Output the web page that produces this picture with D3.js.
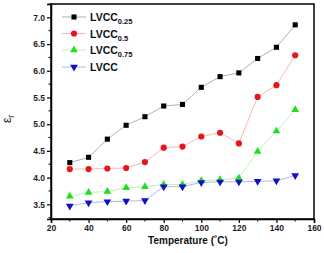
<!DOCTYPE html>
<html><head><meta charset="utf-8">
<script src="https://cdn.jsdelivr.net/npm/d3@7"></script>
<style>body{margin:0;background:#fff}svg{display:block;font-family:"Liberation Sans",Arial,sans-serif}</style>
</head><body><svg id="c" width="324" height="253"></svg>
<script>
const temps = [30,40,50,60,70,80,90,100,110,120,130,140,150];
const lvcc025 = [4.28,4.38,4.72,4.98,5.14,5.34,5.37,5.69,5.89,5.96,6.23,6.44,6.86];
const lvcc05  = [4.16,4.16,4.17,4.18,4.29,4.56,4.58,4.77,4.84,4.64,5.51,5.73,6.29];
const lvcc075 = [3.65,3.72,3.74,3.81,3.83,3.87,3.87,3.94,3.96,3.99,4.49,4.87,5.27];
const lvcc    = [3.47,3.53,3.55,3.56,3.57,3.83,3.83,3.91,3.92,3.92,3.93,3.94,4.04];
const seriesNames = ["LVCC","LVCC","LVCC","LVCC"];
const seriesSubs = ["0.25","0.5","0.75",""];
const colors = ["#000000","#e8161b","#1fe01f","#1010c8"];
const symbols = [d3.symbolSquare, d3.symbolCircle, d3.symbolTriangle, d3.symbolTriangle];
const xTicks = [20,40,60,80,100,120,140,160];
const yTicks = [3.5,4.0,4.5,5.0,5.5,6.0,6.5,7.0];

const data = [lvcc025, lvcc05, lvcc075, lvcc];
const svg = d3.select("#c");
const L=51, R=314, T=4, B=219;
const x = d3.scaleLinear().domain([20,160]).range([L,R]);
const y = d3.scaleLinear().domain([3.225,7.25]).range([B,T]);

svg.append("rect").attr("x",L).attr("y",T).attr("width",R-L).attr("height",B-T)
  .attr("fill","none").attr("stroke","#000").attr("stroke-width",1.5);

const xAxis = svg.append("g").attr("transform",`translate(0,${B})`)
  .call(d3.axisBottom(x).tickValues(xTicks).tickFormat(d3.format("d")).tickSize(4).tickPadding(2));
const yAxis = svg.append("g").attr("transform",`translate(${L},0)`)
  .call(d3.axisLeft(y).tickValues(yTicks).tickFormat(d3.format(".1f")).tickSize(4).tickPadding(2));
[xAxis,yAxis].forEach(g=>{
  g.select(".domain").attr("stroke-width",1.5);
  g.selectAll(".tick line").attr("stroke-width",1.2);
  g.selectAll("text").attr("font-size",8.5).attr("font-weight","bold").attr("fill","#222")
   .attr("font-family","'Liberation Sans',Arial,sans-serif");
});
const xMinor = d3.range(30,160,20);
svg.append("g").selectAll("line").data(xMinor).join("line")
  .attr("x1",d=>x(d)).attr("x2",d=>x(d)).attr("y1",B).attr("y2",B+2.5)
  .attr("stroke","#000").attr("stroke-width",1);
const yMinor = d3.range(3.25,7.3,0.5);
svg.append("g").selectAll("line").data(yMinor).join("line")
  .attr("x1",L-2.5).attr("x2",L).attr("y1",d=>y(d)).attr("y2",d=>y(d))
  .attr("stroke","#000").attr("stroke-width",1);

const line = d3.line().x((d,i)=>x(temps[i])).y(d=>y(d));
data.forEach((s,k)=>{
  svg.append("path").datum(s).attr("d",line).attr("fill","none")
    .attr("stroke",colors[k]).attr("stroke-opacity",0.35).attr("stroke-width",0.9);
  const sym = d3.symbol().type(symbols[k]).size(k===1?30:26);
  svg.append("g").selectAll("path").data(s).join("path")
    .attr("d",sym)
    .attr("transform",(d,i)=>`translate(${x(temps[i])},${y(d)})${k===3?" rotate(180)":""}`)
    .attr("fill",colors[k]);
});

const lg = svg.append("g");
const ly = [17,33.5,50,67];
seriesNames.forEach((n,k)=>{
  const g = lg.append("g").attr("transform",`translate(0,${ly[k]})`);
  g.append("line").attr("x1",62).attr("x2",86).attr("y1",0).attr("y2",0)
    .attr("stroke",colors[k]).attr("stroke-opacity",0.35).attr("stroke-width",0.9);
  g.append("path").attr("d",d3.symbol().type(symbols[k]).size(k===1?30:26)())
    .attr("transform",`translate(74,0)${k===3?" rotate(180)":""}`).attr("fill",colors[k]);
  const t = g.append("text").attr("x",90).attr("y",4).attr("font-size",10.5).attr("font-weight","bold").attr("fill","#111");
  t.append("tspan").text(n);
  if(seriesSubs[k]) t.append("tspan").attr("dy",3).attr("font-size",7.5).text(seriesSubs[k]);
});

svg.append("text").attr("x",188).attr("y",244).attr("text-anchor","middle")
  .attr("font-size",10).attr("font-weight","bold").attr("fill","#111")
  .text("Temperature (\u02DAC)");
const yl = svg.append("text").attr("transform","translate(11,119) rotate(-90)")
  .attr("text-anchor","middle").attr("font-size",12).attr("fill","#111");
yl.append("tspan").text("\u03B5");
yl.append("tspan").attr("dy",3).attr("font-size",8.5).text("r");
</script></body></html>
